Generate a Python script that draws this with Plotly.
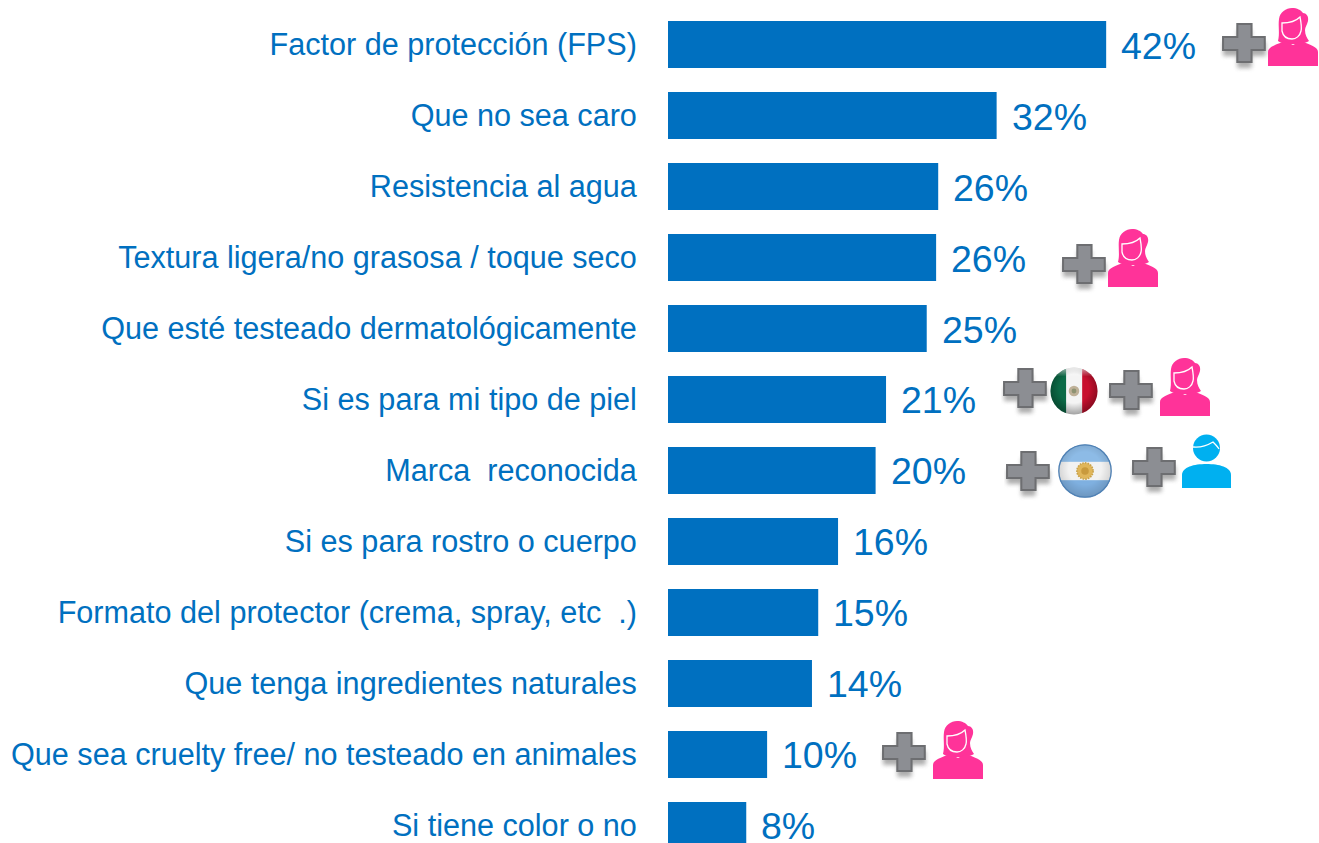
import base64
import plotly.graph_objects as go

categories = [
    "Factor de protección (FPS)", "Que no sea caro", "Resistencia al agua",
    "Textura ligera/no grasosa / toque seco", "Que esté testeado dermatológicamente",
    "Si es para mi tipo de piel", "Marca \u00a0reconocida", "Si es para rostro o cuerpo",
    "Formato del protector (crema, spray, etc \u00a0.)", "Que tenga ingredientes naturales",
    "Que sea cruelty free/ no testeado en animales", "Si tiene color o no",
]
values = [42.0, 31.5, 25.9, 25.7, 24.8, 20.9, 19.9, 16.3, 14.4, 13.8, 9.5, 7.5]
value_labels = ["42%", "32%", "26%", "26%", "25%", "21%", "20%", "16%", "15%", "14%", "10%", "8%"]

W, H = 1319, 843
BLUE = "#0070C0"
FONT = "Liberation Sans"


def uri(svg):
    return "data:image/svg+xml;base64," + base64.b64encode(svg.encode()).decode()


PLUS = """<svg xmlns='http://www.w3.org/2000/svg' viewBox='0 0 56 52' width='56' height='52'>
<defs><filter id='b' x='-30%' y='-30%' width='160%' height='160%'><feGaussianBlur stdDeviation='2.2'/></filter></defs>
<path d='M17 3H31V15H45V29H31V41H17V29H3V15H17Z' transform='translate(0,5)' fill='#777' opacity='.6' filter='url(#b)'/>
<path d='M17 2H31V15H44V28H31V40H17V28H3V15H17Z' fill='#8C8E93' stroke='#6D6E71' stroke-width='2'/>
</svg>"""

WOMAN = """<svg xmlns='http://www.w3.org/2000/svg' viewBox='0 0 50 58' width='50' height='58'>
<path d='M10 33 C12 26 10 18 11 11 C12 4 18 0 24 0 C29 0 33 2 35 5 C38 5 41 8 40 13 C39 17 37 19 37 22 C37 27 39 30 41 33 C36 36 30 36 25 36 C20 36 14 36 10 33Z' fill='#FF3399'/>
<path d='M0 58V44 C0 39 7 37 17 33 L25 37 L33 33 C43 37 50 39 50 44V58Z' fill='#FF3399'/>
<path d='M14 15 C21 15 28 13 32 9 C33 14 34 19 33 23 C32 28 28 31 24 31 C19 31 15 28 14 23Z' fill='#FF3399' stroke='#fff' stroke-width='1.3'/>
</svg>"""

MAN = """<svg xmlns='http://www.w3.org/2000/svg' viewBox='0 0 49 54' width='49' height='54'>
<circle cx='24.5' cy='14' r='13.5' fill='#00B0F0'/>
<path d='M11 13 C20 14 26 11 31 8 C34 11 36 13 37 15' fill='none' stroke='#fff' stroke-width='1.3'/>
<path d='M0 54V41 C0 33 12 30 24.5 30 C37 30 49 33 49 41V54Z' fill='#00B0F0'/>
</svg>"""

GLOSS = """<radialGradient id='g' cx='50%' cy='45%' r='55%'>
<stop offset='0.55' stop-color='#000' stop-opacity='0'/><stop offset='1' stop-color='#000' stop-opacity='.35'/></radialGradient>
<linearGradient id='h' x1='0' y1='0' x2='0' y2='1'><stop offset='0' stop-color='#fff' stop-opacity='.65'/>
<stop offset='.45' stop-color='#fff' stop-opacity='0'/></linearGradient>
<clipPath id='c'><circle cx='50' cy='50' r='49'/></clipPath>"""

MEXICO = f"""<svg xmlns='http://www.w3.org/2000/svg' viewBox='0 0 100 100' width='100' height='100'>
<defs>{GLOSS}</defs><g clip-path='url(#c)'>
<rect width='34' height='100' fill='#0B6B47'/><rect x='34' width='33' height='100' fill='#F4F4F4'/>
<rect x='67' width='33' height='100' fill='#C8102E'/>
<circle cx='50' cy='50' r='11' fill='#A89470' opacity='.7'/><circle cx='50' cy='50' r='5' fill='#6E7F5A' opacity='.6'/>
<rect width='100' height='100' fill='url(#g)'/><ellipse cx='50' cy='22' rx='40' ry='22' fill='url(#h)'/></g>
</svg>"""

ARGENTINA = f"""<svg xmlns='http://www.w3.org/2000/svg' viewBox='0 0 100 100' width='100' height='100'>
<defs>{GLOSS}</defs><g clip-path='url(#c)'>
<rect width='100' height='100' fill='#F2F2F2'/><rect width='100' height='33' fill='#8DBBE6'/>
<rect y='67' width='100' height='33' fill='#7FB0E0'/>
<circle cx='50' cy='50' r='15' fill='#E0B65A' stroke='#C9A24A' stroke-width='3' stroke-dasharray='3 2'/><circle cx='50' cy='50' r='7' fill='#C99A3C'/>
<rect width='100' height='100' fill='url(#g)' opacity='.45'/></g>
<circle cx='50' cy='50' r='48.5' fill='none' stroke='#4F81B5' stroke-width='2.5'/>
</svg>"""

# icon, left, top, width, height (pixels)
ICONS = [
    (PLUS, 1220, 22, 57, 52), (WOMAN, 1268, 8, 50, 58),
    (PLUS, 1060, 243, 57, 52), (WOMAN, 1108, 229, 50, 58),
    (PLUS, 1001, 367, 57, 52), (MEXICO, 1050, 367, 48, 48),
    (PLUS, 1107, 369, 57, 52), (WOMAN, 1160, 358, 50, 58),
    (PLUS, 1004, 450, 57, 52), (ARGENTINA, 1058, 444, 54, 54),
    (PLUS, 1130, 446, 57, 52), (MAN, 1182, 434, 49, 54),
    (PLUS, 880, 731, 57, 52), (WOMAN, 933, 721, 50, 58),
]

fig = go.Figure(go.Bar(
    x=values, y=categories, orientation="h", width=0.662,
    marker=dict(color=BLUE, line=dict(width=0)), hoverinfo="skip",
))

for cat, val, lab in zip(categories, values, value_labels):
    fig.add_annotation(x=val, y=cat, xref="x", yref="y", text=lab, showarrow=False,
                       xanchor="left", yanchor="middle", xshift=13, yshift=-1,
                       font=dict(family=FONT, size=37.5, color=BLUE))

fig.update_layout(
    width=W, height=H, autosize=False,
    margin=dict(l=668, r=0, t=0, b=0, pad=0),
    paper_bgcolor="white", plot_bgcolor="white", showlegend=False,
    xaxis=dict(range=[0, 62.4], visible=False, fixedrange=True),
    yaxis=dict(
        type="category", categoryorder="array", categoryarray=categories,
        range=[11.247, -0.627], showgrid=False, showline=False, zeroline=False,
        ticks="outside", ticklen=24, tickcolor="rgba(0,0,0,0)",
        tickfont=dict(family=FONT, size=30.6, color=BLUE), fixedrange=True, automargin=False,
    ),
    images=[dict(source=uri(s), xref="paper", yref="paper",
                 x=(l - 668) / (W - 668), y=1 - t / H,
                 sizex=w / (W - 668), sizey=h / H,
                 xanchor="left", yanchor="top", sizing="stretch", layer="above")
            for s, l, t, w, h in ICONS],
)

fig.write_html("out.html", config=dict(displayModeBar=False),
               post_script="document.body.style.margin='0';document.body.style.overflow='hidden';")
